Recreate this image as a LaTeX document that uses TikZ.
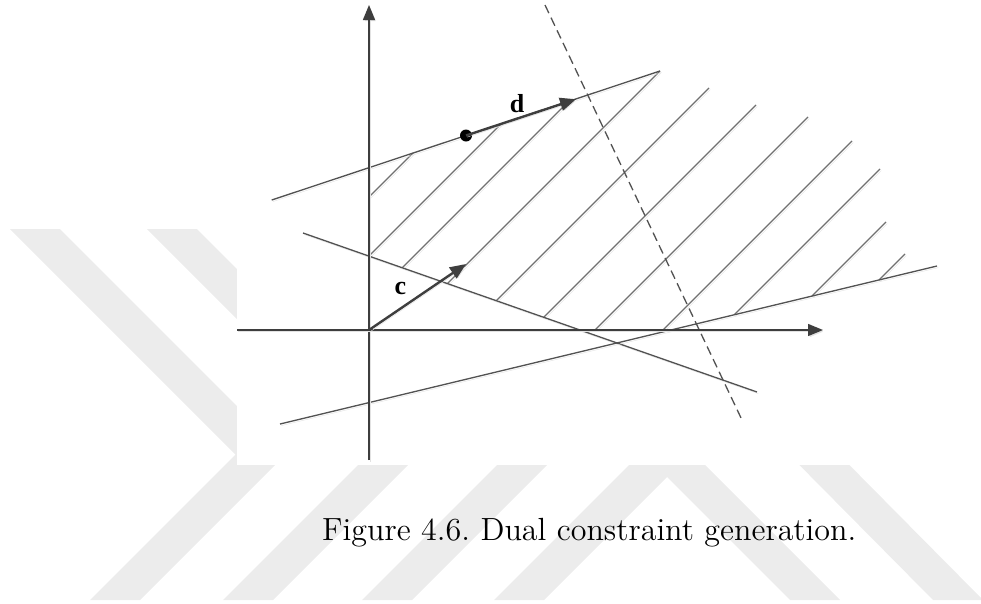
\documentclass[tikz,border=0pt]{standalone}
\usepackage{fontspec}
\usepackage{graphicx}
\usetikzlibrary{arrows.meta}
\newfontfamily\lblfont{Liberation Serif}
\definecolor{axcol}{RGB}{62,62,62}
\definecolor{lncol}{RGB}{82,82,82}
\definecolor{htcol}{RGB}{112,112,112}
\definecolor{wmcol}{RGB}{236,236,236}
\definecolor{shcol}{RGB}{226,226,226}
\tikzset{
  shadowed/.style={preaction={draw=shcol, transform canvas={shift={(1.3pt,-1.6pt)}}}},
  axisline/.style={draw=axcol, line width=1.4pt, -{Triangle[length=15pt,width=12pt]}, shadowed},
  conline/.style={draw=lncol, line width=1.3pt, shadowed},
  hatchline/.style={draw=htcol, line width=1.1pt, shadowed},
  dashline/.style={draw=lncol, line width=1.3pt, dash pattern=on 9pt off 5pt},
  vecline/.style={draw=axcol, line width=2.4pt, -{Triangle[length=16pt,width=13pt]}, shadowed},
  wmband/.style={fill=wmcol, draw=none},
  veclabel/.style={font=\lblfont\bfseries\fontsize{26}{28}\selectfont, text=black, inner sep=0pt},
  dotnode/.style={circle, fill=black, inner sep=0pt, minimum size=12pt},
  capnode/.style={inner sep=0pt, anchor=base west}
}
\begin{document}
\begin{tikzpicture}[x=1pt,y=-1pt]
\useasboundingbox (0,0) rectangle (981,603);
% watermark
\begin{scope}
  \clip (0,229) rectangle (981,600);
  \fill[wmband] (10,229) -- (60,229) -- (285.5,454.5) -- (140,600) -- (90,600) -- (235.5,454.5) -- cycle;
  \fill[wmband] (147,229) -- (197,229) -- (420.5,452.5) -- (273,600) -- (223,600) -- (370.5,452.5) -- cycle;
  \fill[wmband] (362,600) -- (412,600) -- (612,400) -- (562,400) -- cycle;
  \fill[wmband] (494,600) -- (667,427) -- (840,600) -- (790,600) -- (667,477) -- (544,600) -- cycle;
  \fill[wmband] (735,400) -- (785,400) -- (983,600) -- (933,600) -- cycle;
\end{scope}
\fill[white] (237,0) rectangle (981,465);
% coordinates
\coordinate (O) at (369,330);
\coordinate (ytop) at (369,5);
\coordinate (ybot) at (369,460);
\coordinate (xl) at (237,330);
\coordinate (xr) at (823,330);
\coordinate (l1a) at (271.7,200);
\coordinate (l1b) at (660,71);
\coordinate (l2a) at (303,233);
\coordinate (l2b) at (757,392);
\coordinate (l3a) at (280,424);
\coordinate (l3b) at (937,266);
\coordinate (da) at (545,5);
\coordinate (db) at (742,420);
\coordinate (dtip) at (576,99.2);
\coordinate (ctip) at (466,264);
% hatching
\foreach \xa/\ya/\xb/\yb [count=\i] in {412.9/153.1/369/197, 501.3/123.7/369/256, 568.6/101.4/402.2/267.8, 660/71/447.4/283.6, 709/88/496.3/300.7, 756/105/543.7/317.3, 808/117/595/330, 852/141/663/330, 880/169/734.3/314.7, 886/222/811.9/296.1, 905/254/879.1/279.9}{
  \coordinate (h\i a) at (\xa,\ya);
  \coordinate (h\i b) at (\xb,\yb);
  \draw[hatchline] (h\i a) -- (h\i b);
}
% constraint lines
\draw[conline] (l1a) -- (l1b);
\draw[conline] (l2a) -- (l2b);
\draw[conline] (l3a) -- (l3b);
\draw[dashline] (da) -- (db);
% axes
\draw[axisline] (ybot) -- (ytop);
\draw[axisline] (xl) -- (xr);
% vectors
\node[dotnode] (dot) at (466,135.5) {};
\draw[vecline] (dot.center) -- (dtip);
\draw[vecline] (O) -- (ctip);
\node[veclabel] (lc) at (400.5,288) {c};
\node[veclabel] (ld) at (517,104) {d};
% caption
\node[capnode] (cap) at (322,540) {\resizebox{534pt}{!}{\fontsize{12}{14}\selectfont Figure 4.6.\ Dual constraint generation.}};
\end{tikzpicture}
\end{document}
